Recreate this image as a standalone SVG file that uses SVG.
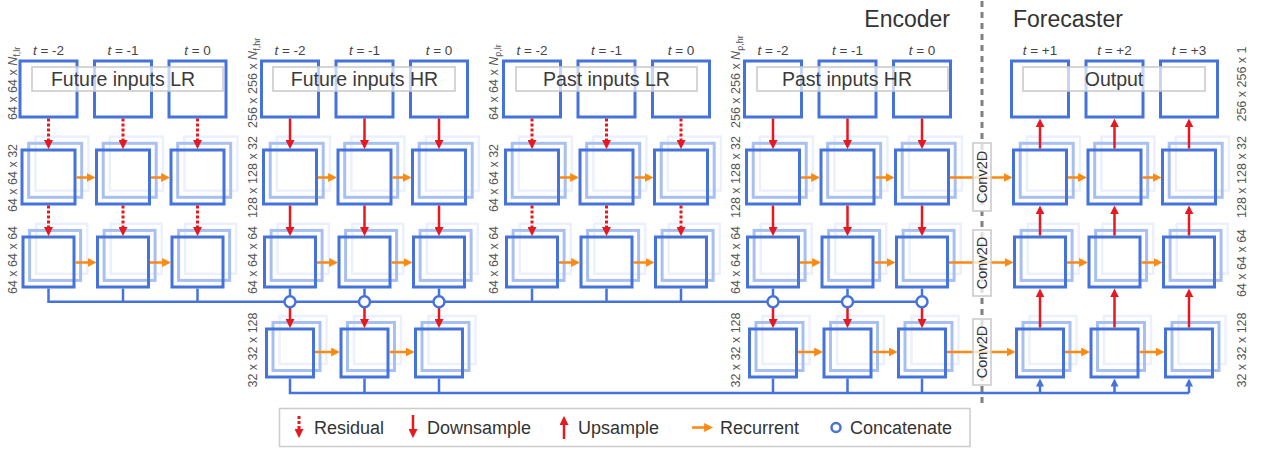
<svg xmlns="http://www.w3.org/2000/svg" xmlns:xlink="http://www.w3.org/1999/xlink" width="1270" height="450" viewBox="0 0 1270 450">
<defs>
<style>
.f{fill:none;stroke:#4572db;stroke-width:3}
.m{fill:none;stroke:#a8bff1;stroke-width:3}
.b{fill:none;stroke:#ecf0fc;stroke-width:2.5}
.in{fill:#fff;stroke:#4572db;stroke-width:3}
.lbl{fill:#fff;fill-opacity:0.7;stroke:#c8c8c8;stroke-width:1.5}
.conv{fill:#fff;fill-opacity:0.75;stroke:#c8c8c8;stroke-width:1.5}
.tl{font-family:"Liberation Sans",Arial,sans-serif;font-size:19.5px;fill:#3a3a3a;text-anchor:middle}
.hd{font-family:"Liberation Sans",Arial,sans-serif;font-size:23px;fill:#333}
.tt{font-family:"Liberation Sans",Arial,sans-serif;font-size:13.5px;fill:#444;text-anchor:middle}
.dim{font-family:"Liberation Sans",Arial,sans-serif;font-size:12.5px;fill:#555}
.cv{font-family:"Liberation Sans",Arial,sans-serif;font-size:14.5px;fill:#333;text-anchor:middle}
.lg{font-family:"Liberation Sans",Arial,sans-serif;font-size:18px;fill:#333}
.res{fill:none;stroke:#e5191f;stroke-width:3;stroke-dasharray:3 2;marker-end:url(#ar)}
.dn{fill:none;stroke:#e5191f;stroke-width:2.5;marker-end:url(#ar)}
.rec{fill:none;stroke:#fb8a12;stroke-width:2.5;marker-end:url(#ao)}
.bus{fill:none;stroke:#4572db;stroke-width:2.5}
.bup{fill:none;stroke:#4572db;stroke-width:2.5;marker-end:url(#ab)}
.cc{fill:#fff;stroke:#4572db;stroke-width:2.5}
.sep{stroke:#808080;stroke-width:3;stroke-dasharray:6 5}
</style>
<marker id="ar" viewBox="0 0 10 10" refX="1" refY="5" markerWidth="9" markerHeight="9" markerUnits="userSpaceOnUse" orient="auto"><path d="M0,0L10,5L0,10z" fill="#e5191f"/></marker>
<marker id="ao" viewBox="0 0 10 10" refX="1" refY="5" markerWidth="9" markerHeight="9" markerUnits="userSpaceOnUse" orient="auto"><path d="M0,0L10,5L0,10z" fill="#fb8a12"/></marker>
<marker id="ab" viewBox="0 0 10 10" refX="1" refY="5" markerWidth="8" markerHeight="8" markerUnits="userSpaceOnUse" orient="auto"><path d="M0,0L10,5L0,10z" fill="#4572db"/></marker>
<g id="c2"><rect class="b" x="13.4" y="-13.4" width="53" height="54"/><rect class="m" x="6.7" y="-6.7" width="53" height="54"/><rect class="f" width="53" height="54"/></g>
<g id="c3"><rect class="b" x="13.2" y="-13.2" width="51" height="50"/><rect class="m" x="6.6" y="-6.6" width="51" height="50"/><rect class="f" width="51" height="50"/></g>
<g id="c4"><rect class="b" x="13" y="-13" width="47" height="48"/><rect class="m" x="6.5" y="-6.5" width="47" height="48"/><rect class="f" width="47" height="48"/></g>
</defs>
<rect width="1270" height="450" fill="#fff"/>
<line class="sep" x1="982" y1="1" x2="982" y2="405"/>

<!-- Group 1: Future inputs LR -->
<g id="g1-in1"><rect class="in" x="20" y="61" width="57" height="56"/></g>
<g id="g1-in2"><rect class="in" x="94.5" y="61" width="57" height="56"/></g>
<g id="g1-in3"><rect class="in" x="169" y="61" width="57" height="56"/></g>
<g id="g1-r2c1"><use xlink:href="#c2" x="22" y="150"/></g>
<g id="g1-r2c2"><use xlink:href="#c2" x="96.5" y="150"/></g>
<g id="g1-r2c3"><use xlink:href="#c2" x="171" y="150"/></g>
<g id="g1-r3c1"><use xlink:href="#c3" x="23" y="237"/></g>
<g id="g1-r3c2"><use xlink:href="#c3" x="97.5" y="237"/></g>
<g id="g1-r3c3"><use xlink:href="#c3" x="172" y="237"/></g>

<!-- Group 2: Future inputs HR -->
<g id="g2-in1"><rect class="in" x="261.5" y="61" width="57" height="56"/></g>
<g id="g2-in2"><rect class="in" x="336" y="61" width="57" height="56"/></g>
<g id="g2-in3"><rect class="in" x="410.5" y="61" width="57" height="56"/></g>
<g id="g2-r2c1"><use xlink:href="#c2" x="263.5" y="150"/></g>
<g id="g2-r2c2"><use xlink:href="#c2" x="338" y="150"/></g>
<g id="g2-r2c3"><use xlink:href="#c2" x="412.5" y="150"/></g>
<g id="g2-r3c1"><use xlink:href="#c3" x="264.5" y="237"/></g>
<g id="g2-r3c2"><use xlink:href="#c3" x="339" y="237"/></g>
<g id="g2-r3c3"><use xlink:href="#c3" x="413.5" y="237"/></g>
<g id="g2-r4c1"><use xlink:href="#c4" x="266.5" y="329"/></g>
<g id="g2-r4c2"><use xlink:href="#c4" x="341" y="329"/></g>
<g id="g2-r4c3"><use xlink:href="#c4" x="415.5" y="329"/></g>

<!-- Group 3: Past inputs LR -->
<g id="g3-in1"><rect class="in" x="503.5" y="61" width="57" height="56"/></g>
<g id="g3-in2"><rect class="in" x="578" y="61" width="57" height="56"/></g>
<g id="g3-in3"><rect class="in" x="652.5" y="61" width="57" height="56"/></g>
<g id="g3-r2c1"><use xlink:href="#c2" x="505.5" y="150"/></g>
<g id="g3-r2c2"><use xlink:href="#c2" x="580" y="150"/></g>
<g id="g3-r2c3"><use xlink:href="#c2" x="654.5" y="150"/></g>
<g id="g3-r3c1"><use xlink:href="#c3" x="506.5" y="237"/></g>
<g id="g3-r3c2"><use xlink:href="#c3" x="581" y="237"/></g>
<g id="g3-r3c3"><use xlink:href="#c3" x="655.5" y="237"/></g>

<!-- Group 4: Past inputs HR -->
<g id="g4-in1"><rect class="in" x="744.5" y="61" width="57" height="56"/></g>
<g id="g4-in2"><rect class="in" x="819" y="61" width="57" height="56"/></g>
<g id="g4-in3"><rect class="in" x="893.5" y="61" width="57" height="56"/></g>
<g id="g4-r2c1"><use xlink:href="#c2" x="746.5" y="150"/></g>
<g id="g4-r2c2"><use xlink:href="#c2" x="821" y="150"/></g>
<g id="g4-r2c3"><use xlink:href="#c2" x="895.5" y="150"/></g>
<g id="g4-r3c1"><use xlink:href="#c3" x="747.5" y="237"/></g>
<g id="g4-r3c2"><use xlink:href="#c3" x="822" y="237"/></g>
<g id="g4-r3c3"><use xlink:href="#c3" x="896.5" y="237"/></g>
<g id="g4-r4c1"><use xlink:href="#c4" x="749.5" y="329"/></g>
<g id="g4-r4c2"><use xlink:href="#c4" x="824" y="329"/></g>
<g id="g4-r4c3"><use xlink:href="#c4" x="898.5" y="329"/></g>

<!-- Group 5: Forecaster -->
<g id="g5-out1"><rect class="in" x="1011.5" y="61" width="57" height="56"/></g>
<g id="g5-out2"><rect class="in" x="1086" y="61" width="57" height="56"/></g>
<g id="g5-out3"><rect class="in" x="1160.5" y="61" width="57" height="56"/></g>
<g id="g5-r2c1"><use xlink:href="#c2" x="1013.5" y="150"/></g>
<g id="g5-r2c2"><use xlink:href="#c2" x="1088" y="150"/></g>
<g id="g5-r2c3"><use xlink:href="#c2" x="1162.5" y="150"/></g>
<g id="g5-r3c1"><use xlink:href="#c3" x="1014.5" y="237"/></g>
<g id="g5-r3c2"><use xlink:href="#c3" x="1089" y="237"/></g>
<g id="g5-r3c3"><use xlink:href="#c3" x="1163.5" y="237"/></g>
<g id="g5-r4c1"><use xlink:href="#c4" x="1016.5" y="329"/></g>
<g id="g5-r4c2"><use xlink:href="#c4" x="1091" y="329"/></g>
<g id="g5-r4c3"><use xlink:href="#c4" x="1165.5" y="329"/></g>

<g id="connectors">
<path class="bus" d="M48.5,288.5V301.7H922M123,288.5V301.7M197.5,288.5V301.7M290,288.5V301.7M364.5,288.5V301.7M439,288.5V301.7M532,288.5V301.7M606.5,288.5V301.7M681,288.5V301.7M773,288.5V301.7M847.5,288.5V301.7M922,288.5V301.7"/>
<path class="bus" d="M290,378.5V393H1189M364.5,378.5V393M439,378.5V393M773,378.5V393M847.5,378.5V393M922,378.5V393"/>
<line class="bup" x1="1040" y1="393" x2="1040" y2="385.7"/>
<line class="bup" x1="1114.5" y1="393" x2="1114.5" y2="385.7"/>
<line class="bup" x1="1189" y1="393" x2="1189" y2="385.7"/>
<line class="res" x1="48.5" y1="118.5" x2="48.5" y2="141"/>
<line class="res" x1="123" y1="118.5" x2="123" y2="141"/>
<line class="res" x1="197.5" y1="118.5" x2="197.5" y2="141"/>
<line class="res" x1="48.5" y1="205.5" x2="48.5" y2="228"/>
<line class="res" x1="123" y1="205.5" x2="123" y2="228"/>
<line class="res" x1="197.5" y1="205.5" x2="197.5" y2="228"/>
<line class="res" x1="532" y1="118.5" x2="532" y2="141"/>
<line class="res" x1="606.5" y1="118.5" x2="606.5" y2="141"/>
<line class="res" x1="681" y1="118.5" x2="681" y2="141"/>
<line class="res" x1="532" y1="205.5" x2="532" y2="228"/>
<line class="res" x1="606.5" y1="205.5" x2="606.5" y2="228"/>
<line class="res" x1="681" y1="205.5" x2="681" y2="228"/>
<line class="dn" x1="290" y1="118.5" x2="290" y2="141"/>
<line class="dn" x1="364.5" y1="118.5" x2="364.5" y2="141"/>
<line class="dn" x1="439" y1="118.5" x2="439" y2="141"/>
<line class="dn" x1="290" y1="205.5" x2="290" y2="228"/>
<line class="dn" x1="364.5" y1="205.5" x2="364.5" y2="228"/>
<line class="dn" x1="439" y1="205.5" x2="439" y2="228"/>
<line class="dn" x1="290" y1="307.5" x2="290" y2="320"/>
<line class="dn" x1="364.5" y1="307.5" x2="364.5" y2="320"/>
<line class="dn" x1="439" y1="307.5" x2="439" y2="320"/>
<line class="dn" x1="773" y1="118.5" x2="773" y2="141"/>
<line class="dn" x1="847.5" y1="118.5" x2="847.5" y2="141"/>
<line class="dn" x1="922" y1="118.5" x2="922" y2="141"/>
<line class="dn" x1="773" y1="205.5" x2="773" y2="228"/>
<line class="dn" x1="847.5" y1="205.5" x2="847.5" y2="228"/>
<line class="dn" x1="922" y1="205.5" x2="922" y2="228"/>
<line class="dn" x1="773" y1="307.5" x2="773" y2="320"/>
<line class="dn" x1="847.5" y1="307.5" x2="847.5" y2="320"/>
<line class="dn" x1="922" y1="307.5" x2="922" y2="320"/>
<line class="dn" x1="1040" y1="148.5" x2="1040" y2="126.5"/>
<line class="dn" x1="1114.5" y1="148.5" x2="1114.5" y2="126.5"/>
<line class="dn" x1="1189" y1="148.5" x2="1189" y2="126.5"/>
<line class="dn" x1="1040" y1="235.5" x2="1040" y2="213.5"/>
<line class="dn" x1="1114.5" y1="235.5" x2="1114.5" y2="213.5"/>
<line class="dn" x1="1189" y1="235.5" x2="1189" y2="213.5"/>
<line class="dn" x1="1040" y1="327.5" x2="1040" y2="296.5"/>
<line class="dn" x1="1114.5" y1="327.5" x2="1114.5" y2="296.5"/>
<line class="dn" x1="1189" y1="327.5" x2="1189" y2="296.5"/>
<line class="rec" x1="76.5" y1="177.5" x2="87.5" y2="177.5"/>
<line class="rec" x1="151" y1="177.5" x2="162" y2="177.5"/>
<line class="rec" x1="318" y1="177.5" x2="329" y2="177.5"/>
<line class="rec" x1="392.5" y1="177.5" x2="403.5" y2="177.5"/>
<line class="rec" x1="560" y1="177.5" x2="571" y2="177.5"/>
<line class="rec" x1="634.5" y1="177.5" x2="645.5" y2="177.5"/>
<line class="rec" x1="801" y1="177.5" x2="812" y2="177.5"/>
<line class="rec" x1="875.5" y1="177.5" x2="886.5" y2="177.5"/>
<line class="rec" x1="950" y1="177.5" x2="1004.5" y2="177.5"/>
<line class="rec" x1="1068" y1="177.5" x2="1079" y2="177.5"/>
<line class="rec" x1="1142.5" y1="177.5" x2="1153.5" y2="177.5"/>
<line class="rec" x1="75.5" y1="262.5" x2="88.5" y2="262.5"/>
<line class="rec" x1="150" y1="262.5" x2="163" y2="262.5"/>
<line class="rec" x1="317" y1="262.5" x2="330" y2="262.5"/>
<line class="rec" x1="391.5" y1="262.5" x2="404.5" y2="262.5"/>
<line class="rec" x1="559" y1="262.5" x2="572" y2="262.5"/>
<line class="rec" x1="633.5" y1="262.5" x2="646.5" y2="262.5"/>
<line class="rec" x1="800" y1="262.5" x2="813" y2="262.5"/>
<line class="rec" x1="874.5" y1="262.5" x2="887.5" y2="262.5"/>
<line class="rec" x1="949" y1="262.5" x2="1005.5" y2="262.5"/>
<line class="rec" x1="1067" y1="262.5" x2="1080" y2="262.5"/>
<line class="rec" x1="1141.5" y1="262.5" x2="1154.5" y2="262.5"/>
<line class="rec" x1="315" y1="352" x2="332" y2="352"/>
<line class="rec" x1="389.5" y1="352" x2="406.5" y2="352"/>
<line class="rec" x1="798" y1="352" x2="815" y2="352"/>
<line class="rec" x1="872.5" y1="352" x2="889.5" y2="352"/>
<line class="rec" x1="947" y1="352" x2="1007.5" y2="352"/>
<line class="rec" x1="1065" y1="352" x2="1082" y2="352"/>
<line class="rec" x1="1139.5" y1="352" x2="1156.5" y2="352"/>
<circle class="cc" cx="290" cy="301.7" r="5.5"/>
<circle class="cc" cx="364.5" cy="301.7" r="5.5"/>
<circle class="cc" cx="439" cy="301.7" r="5.5"/>
<circle class="cc" cx="773" cy="301.7" r="5.5"/>
<circle class="cc" cx="847.5" cy="301.7" r="5.5"/>
<circle class="cc" cx="922" cy="301.7" r="5.5"/>
</g>

<g id="conv2d-1"><rect class="conv" x="973" y="143" width="18" height="68"/><text class="cv" transform="translate(987,177) rotate(-90)">Conv2D</text></g>
<g id="conv2d-2"><rect class="conv" x="973" y="230" width="18" height="66"/><text class="cv" transform="translate(987,263) rotate(-90)">Conv2D</text></g>
<g id="conv2d-3"><rect class="conv" x="973" y="319" width="18" height="66"/><text class="cv" transform="translate(987,352) rotate(-90)">Conv2D</text></g>

<g id="labels">
<rect class="lbl" x="32" y="67" width="191" height="24"/><text class="tl" x="123" y="86">Future inputs LR</text>
<rect class="lbl" x="273" y="67" width="182" height="24"/><text class="tl" x="364.5" y="86">Future inputs HR</text>
<rect class="lbl" x="516" y="67" width="181" height="24"/><text class="tl" x="606.5" y="86">Past inputs LR</text>
<rect class="lbl" x="757" y="67" width="191" height="24"/><text class="tl" x="847" y="86">Past inputs HR</text>
<rect class="lbl" x="1023" y="67" width="182" height="24"/><text class="tl" x="1114" y="86">Output</text>
</g>

<g id="headings">
<text class="hd" x="950" y="27" text-anchor="end">Encoder</text>
<text class="hd" x="1013" y="27">Forecaster</text>
</g>

<g id="time-labels">
<text class="tt" x="48.5" y="55"><tspan font-style="italic">t</tspan> = -2</text>
<text class="tt" x="123" y="55"><tspan font-style="italic">t</tspan> = -1</text>
<text class="tt" x="197.5" y="55"><tspan font-style="italic">t</tspan> = 0</text>
<text class="tt" x="290" y="55"><tspan font-style="italic">t</tspan> = -2</text>
<text class="tt" x="364.5" y="55"><tspan font-style="italic">t</tspan> = -1</text>
<text class="tt" x="439" y="55"><tspan font-style="italic">t</tspan> = 0</text>
<text class="tt" x="532" y="55"><tspan font-style="italic">t</tspan> = -2</text>
<text class="tt" x="606.5" y="55"><tspan font-style="italic">t</tspan> = -1</text>
<text class="tt" x="681" y="55"><tspan font-style="italic">t</tspan> = 0</text>
<text class="tt" x="773" y="55"><tspan font-style="italic">t</tspan> = -2</text>
<text class="tt" x="847.5" y="55"><tspan font-style="italic">t</tspan> = -1</text>
<text class="tt" x="922" y="55"><tspan font-style="italic">t</tspan> = 0</text>
<text class="tt" x="1040" y="55"><tspan font-style="italic">t</tspan> = +1</text>
<text class="tt" x="1114.5" y="55"><tspan font-style="italic">t</tspan> = +2</text>
<text class="tt" x="1189" y="55"><tspan font-style="italic">t</tspan> = +3</text>
</g>

<g id="dim-labels">
<text class="dim" transform="translate(17,120) rotate(-90)">64 x 64 x <tspan font-style="italic">N</tspan><tspan font-size="9" dy="2.5">f,lr</tspan></text>
<text class="dim" text-anchor="middle" transform="translate(17,178) rotate(-90)">64 x 64 x 32</text>
<text class="dim" text-anchor="middle" transform="translate(17,260) rotate(-90)">64 x 64 x 64</text>
<text class="dim" transform="translate(257,128) rotate(-90)">256 x 256 x <tspan font-style="italic">N</tspan><tspan font-size="9" dy="2.5">f,hr</tspan></text>
<text class="dim" text-anchor="middle" transform="translate(257,177) rotate(-90)">128 x 128 x 32</text>
<text class="dim" text-anchor="middle" transform="translate(257,260) rotate(-90)">64 x 64 x 64</text>
<text class="dim" text-anchor="middle" transform="translate(257,350) rotate(-90)">32 x 32 x 128</text>
<text class="dim" transform="translate(498,120) rotate(-90)">64 x 64 x <tspan font-style="italic">N</tspan><tspan font-size="9" dy="2.5">p,lr</tspan></text>
<text class="dim" text-anchor="middle" transform="translate(498,178) rotate(-90)">64 x 64 x 32</text>
<text class="dim" text-anchor="middle" transform="translate(498,260) rotate(-90)">64 x 64 x 64</text>
<text class="dim" transform="translate(740,128) rotate(-90)">256 x 256 x <tspan font-style="italic">N</tspan><tspan font-size="9" dy="2.5">p,hr</tspan></text>
<text class="dim" text-anchor="middle" transform="translate(740,177) rotate(-90)">128 x 128 x 32</text>
<text class="dim" text-anchor="middle" transform="translate(740,260) rotate(-90)">64 x 64 x 64</text>
<text class="dim" text-anchor="middle" transform="translate(740,350) rotate(-90)">32 x 32 x 128</text>
<text class="dim" text-anchor="middle" transform="translate(1246,84) rotate(-90)">256 x 256 x 1</text>
<text class="dim" text-anchor="middle" transform="translate(1246,177) rotate(-90)">128 x 128 x 32</text>
<text class="dim" text-anchor="middle" transform="translate(1246,263) rotate(-90)">64 x 64 x 64</text>
<text class="dim" text-anchor="middle" transform="translate(1246,350) rotate(-90)">32 x 32 x 128</text>
</g>

<g id="legend">
<rect x="279.5" y="408.5" width="690.5" height="38" fill="#fff" stroke="#cccccc" stroke-width="1.5"/>
<line class="res" x1="299" y1="416" x2="299" y2="430"/>
<text class="lg" x="314" y="434">Residual</text>
<line class="dn" x1="413" y1="415" x2="413" y2="430"/>
<text class="lg" x="427" y="434">Downsample</text>
<line class="dn" x1="564" y1="439" x2="564" y2="424"/>
<text class="lg" x="578" y="434">Upsample</text>
<line class="rec" x1="692" y1="427.5" x2="705" y2="427.5"/>
<text class="lg" x="720" y="434">Recurrent</text>
<circle class="cc" cx="836" cy="427.5" r="4.5"/>
<text class="lg" x="850" y="434">Concatenate</text>
</g>
</svg>
